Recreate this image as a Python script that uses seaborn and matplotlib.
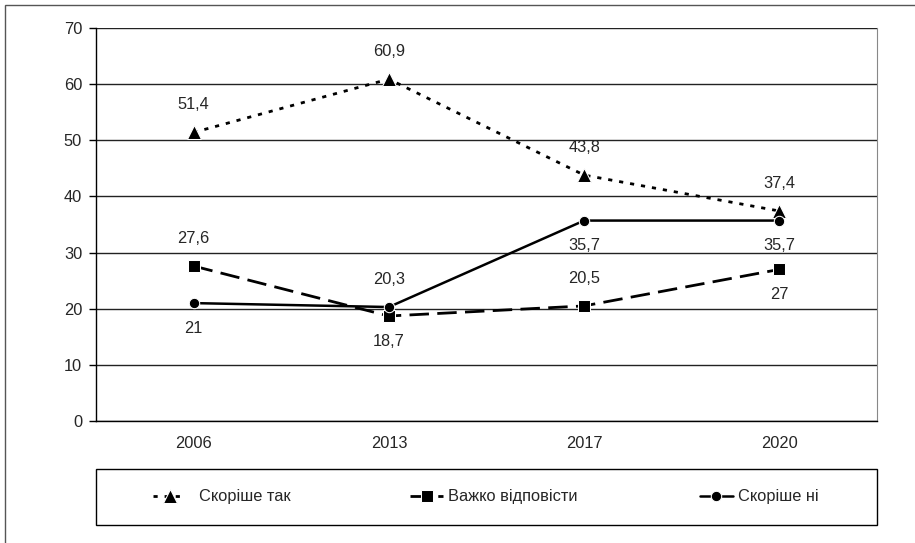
import matplotlib
matplotlib.use("Agg")
import matplotlib.pyplot as plt
import seaborn as sns
import pandas as pd
from matplotlib.patches import Rectangle

years = ["2006", "2013", "2017", "2020"]
skorishe_tak = [51.4, 60.9, 43.8, 37.4]
vazhko = [27.6, 18.7, 20.5, 27.0]
skorishe_ni = [21.0, 20.3, 35.7, 35.7]
labels_tak = ["51,4", "60,9", "43,8", "37,4"]
labels_vazhko = ["27,6", "18,7", "20,5", "27"]
labels_ni = ["21", "20,3", "35,7", "35,7"]
series_names = ["Скоріше так", "Важко відповісти", "Скоріше ні"]

sns.set_style("white")
plt.rcParams['font.family'] = ['Liberation Sans', 'DejaVu Sans']

fig = plt.figure(figsize=(9.15, 5.43), dpi=100)
ax = fig.add_axes([96/915, 1-421/543, 781/915, 393/543])

fig.patches.append(Rectangle((5/915, -0.1), 1.2, 1-5/543+0.1, transform=fig.transFigure,
                             fill=False, edgecolor="#555555", linewidth=1.0))

x = list(range(len(years)))
df = pd.DataFrame({"x": x, "tak": skorishe_tak, "vazhko": vazhko, "ni": skorishe_ni})

sns.lineplot(data=df, x="x", y="tak", ax=ax, color="black", linewidth=2,
             marker="^", markersize=9.5, linestyle=(0, (1.5, 2.5)), label=series_names[0])
sns.lineplot(data=df, x="x", y="vazhko", ax=ax, color="black", linewidth=2,
             marker="s", markersize=8, linestyle=(0, (7, 3)), label=series_names[1])
sns.lineplot(data=df, x="x", y="ni", ax=ax, color="black", linewidth=1.8,
             marker="o", markersize=7.5, linestyle="-", label=series_names[2])

fs = 11.8
pos_tak = ["above"] * 4
pos_vazhko = ["above", "below", "above", "below"]
pos_ni = ["below", "above", "below", "below"]
for vals, labs, poss in [(skorishe_tak, labels_tak, pos_tak),
                         (vazhko, labels_vazhko, pos_vazhko),
                         (skorishe_ni, labels_ni, pos_ni)]:
    for xi, v, l, p in zip(x, vals, labs, poss):
        dy = 20 if p == "above" else -18
        ax.annotate(l, (xi, v), xytext=(0, dy), textcoords="offset points",
                    ha="center", va="center", fontsize=fs)

ax.set_xlim(-0.5, 3.5)
ax.set_ylim(0, 70)
ax.set_yticks(range(0, 71, 10))
ax.set_xticks(x)
ax.set_xticklabels(years)
ax.set_xticks([-0.5, 0.5, 1.5, 2.5, 3.5], minor=True)
ax.tick_params(axis="x", which="major", length=0, pad=11, labelsize=fs)
ax.tick_params(axis="x", which="minor", length=5, direction="out", color="black", width=1)
ax.tick_params(axis="y", which="major", length=5, direction="out", color="black", width=1,
               labelsize=fs, left=True, pad=5)
ax.set_xlabel("")
ax.set_ylabel("")
ax.grid(axis="y", color="#222222", linewidth=1)
ax.set_axisbelow(True)
ax.spines["top"].set_visible(False)
ax.spines["right"].set_color("#888888")
ax.spines["left"].set_color("black")
ax.spines["bottom"].set_color("black")
ax.spines["left"].set_linewidth(1)
ax.spines["bottom"].set_linewidth(1)

ax.get_legend().remove()
handles, labels = ax.get_legend_handles_labels()

# legend frame
fig.patches.append(Rectangle((96/915, 1-525/543), 781/915, 56/543, transform=fig.transFigure,
                             fill=False, edgecolor="black", linewidth=1.0))
centers = [222/915, 494/915, 759/915]
pads = [0.8, 0.3, 0.3]
for h, l, cx, tp in zip(handles, labels, centers, pads):
    lg = fig.legend([h], [l], loc="center", bbox_to_anchor=(cx, 1-497/543),
                    frameon=False, fontsize=fs, handlelength=2.0, handletextpad=tp,
                    borderpad=0, borderaxespad=0)

fig.savefig("out.png", dpi=100)
